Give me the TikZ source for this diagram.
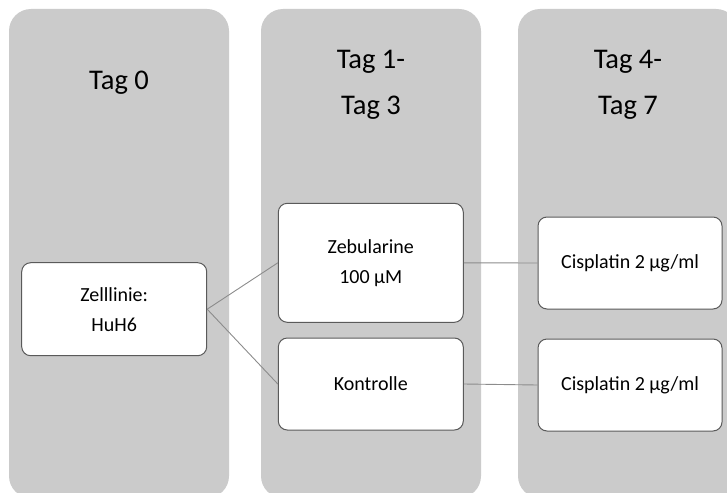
\documentclass[tikz,border=0pt]{standalone}
\usepackage{fontspec}
\setmainfont{Carlito}
\definecolor{colbg}{RGB}{203,203,203}
\definecolor{boxline}{RGB}{90,90,90}
\definecolor{linkline}{RGB}{140,140,140}
\begin{document}
\begin{tikzpicture}[x=1pt,y=-1pt,
  column/.style={fill=colbg,rounded corners=22pt},
  daytitle/.style={font=\fontsize{28.5}{46}\selectfont,align=center,anchor=base},
  stage/.style={draw=boxline,line width=1pt,fill=white,rounded corners=9pt,
    inner sep=0pt,minimum width=185pt,align=center,
    font=\fontsize{20}{30}\selectfont},
  link/.style={draw=linkline,line width=0.9pt}]
  \useasboundingbox (0,0) rectangle (727,492);
  \clip (0,0) rectangle (727,492);
  % day columns
  \fill[column] (9,9) rectangle (229,498);
  \fill[column] (261,9) rectangle (481,498);
  \fill[column] (518,9) rectangle (738,498);
  % column titles (base anchor sits on the last line)
  \node[daytitle] (d0) at (119,90) {Tag 0};
  \node[daytitle] (d1) at (371,114) {Tag 1-\\Tag 3};
  \node[daytitle] (d4) at (628,114) {Tag 4-\\Tag 7};
  % treatment boxes
  \node[stage,minimum height=93pt] (zell) at (114.2,309.2) {Zelllinie:\\HuH6};
  \node[stage,minimum height=119pt] (zeb) at (370.8,262.8) {Zebularine\\100 µM};
  \node[stage,minimum height=92pt] (kon) at (370.8,384) {Kontrolle};
  \node[stage,minimum width=184pt,minimum height=92pt] (cis1) at (630,263) {Cisplatin 2 µg/ml};
  \node[stage,minimum width=184pt,minimum height=92pt] (cis2) at (630,385) {Cisplatin 2 µg/ml};
  % connectors
  \draw[link] (zell.east) -- (zeb.west);
  \draw[link] (zell.east) -- (kon.west);
  \draw[link] (zeb.east) -- (cis1.west);
  \draw[link] (kon.east) -- (cis2.west);
\end{tikzpicture}
\end{document}
